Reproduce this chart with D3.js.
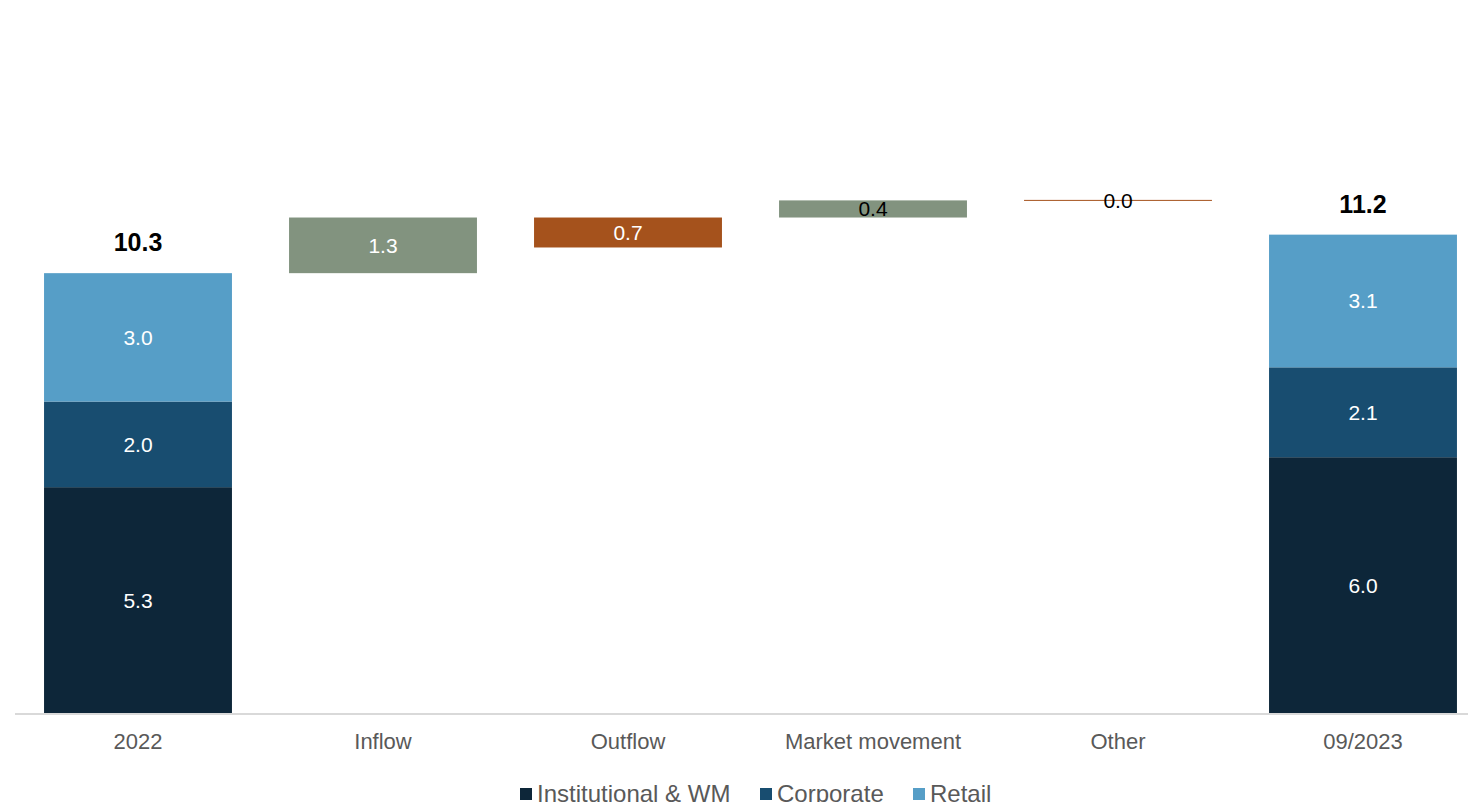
<!DOCTYPE html>
<html>
<head>
<meta charset="utf-8">
<script src="https://cdn.jsdelivr.net/npm/d3@7"></script>
<style>
  html, body { margin: 0; padding: 0; background: #fff; }
  svg { display: block; font-family: "Liberation Sans", Arial, sans-serif; }
</style>
</head>
<body>
<svg id="chart" width="1468" height="802"></svg>
<script>
// Categories along the x axis
const categories = ["2022", "Inflow", "Outflow", "Market movement", "Other", "09/2023"];

// Stacked totals (first and last column), by segment
const segments = ["Institutional & WM", "Corporate", "Retail"];
const segmentColors = ["#0d2639", "#184d70", "#569ec7"];
const start2022 = [5.3, 2.0, 3.0];
const end2023 = [6.0, 2.1, 3.1];
const totals = [10.3, 11.2];

// Movements: floating bars, each drawn from its base by its value
const moveCategories = ["Inflow", "Outflow", "Market movement", "Other"];
const moveBase = [10.3, 10.9, 11.6, 12.0];
const moveValues = [1.3, 0.7, 0.4, 0.0];
const moveColors = ["#82937f", "#a5521c", "#82937f", "#a5521c"];
const moveLabelColors = ["#ffffff", "#ffffff", "#000000", "#000000"];

const svg = d3.select("#chart");
const baseY = 714;

const x = d3.scaleBand()
  .domain(categories)
  .range([15.5, 1485.5])
  .paddingInner(0.233)
  .paddingOuter(0.1165);

const y = d3.scaleLinear()
  .domain([0, 14])
  .range([baseY, baseY - 14 * 42.8]);

// Stacked columns
function drawStack(cat, values, total) {
  let acc = 0;
  const g = svg.append("g");
  values.forEach((v, i) => {
    const y0 = y(acc), y1 = y(acc + v);
    g.append("rect")
      .attr("x", x(cat))
      .attr("y", y1)
      .attr("width", x.bandwidth())
      .attr("height", y0 - y1)
      .attr("fill", segmentColors[i]);
    g.append("text")
      .attr("x", x(cat) + x.bandwidth() / 2)
      .attr("y", (y0 + y1) / 2)
      .attr("dy", "0.35em")
      .attr("text-anchor", "middle")
      .attr("fill", "#ffffff")
      .attr("font-size", 21)
      .text(d3.format(".1f")(v));
    acc += v;
  });
  g.append("text")
    .attr("x", x(cat) + x.bandwidth() / 2)
    .attr("y", y(total) - 22)
    .attr("text-anchor", "middle")
    .attr("fill", "#000")
    .attr("font-size", 25)
    .attr("font-weight", "bold")
    .text(d3.format(".1f")(total));
}
drawStack("2022", start2022, totals[0]);
drawStack("09/2023", end2023, totals[1]);

// Floating movement bars
moveCategories.forEach((cat, i) => {
  const lo = moveBase[i], hi = moveBase[i] + moveValues[i];
  const yTop = y(hi), yBot = y(lo);
  const cx = x(cat) + x.bandwidth() / 2;
  if (moveValues[i] === 0) {
    svg.append("line")
      .attr("x1", x(cat)).attr("x2", x(cat) + x.bandwidth())
      .attr("y1", yTop).attr("y2", yTop)
      .attr("stroke", moveColors[i]).attr("stroke-width", 1);
  } else {
    svg.append("rect")
      .attr("x", x(cat))
      .attr("y", yTop)
      .attr("width", x.bandwidth())
      .attr("height", yBot - yTop)
      .attr("fill", moveColors[i]);
  }
  svg.append("text")
    .attr("x", cx)
    .attr("y", (yTop + yBot) / 2)
    .attr("dy", "0.35em")
    .attr("text-anchor", "middle")
    .attr("fill", moveLabelColors[i])
    .attr("font-size", 21)
    .text(d3.format(".1f")(moveValues[i]));
});

// Category axis
const axis = svg.append("g")
  .attr("transform", `translate(0,${baseY})`)
  .call(d3.axisBottom(x).tickSize(0).tickPadding(19));
axis.select(".domain").attr("stroke", "#d9d9d9").attr("stroke-width", 2)
  .attr("d", `M15,0H1468`);
axis.selectAll("text")
  .attr("font-size", 22)
  .attr("fill", "#595959")
  .attr("font-family", "Liberation Sans, Arial, sans-serif");

// Legend
const legendX = [520, 760, 913];
const legend = svg.append("g");
segments.forEach((s, i) => {
  legend.append("rect")
    .attr("x", legendX[i]).attr("y", 788)
    .attr("width", 12).attr("height", 12)
    .attr("fill", segmentColors[i]);
  legend.append("text")
    .attr("x", legendX[i] + 17).attr("y", 802)
    .attr("font-size", 24)
    .attr("fill", "#595959")
    .text(s);
});
</script>
</body>
</html>
